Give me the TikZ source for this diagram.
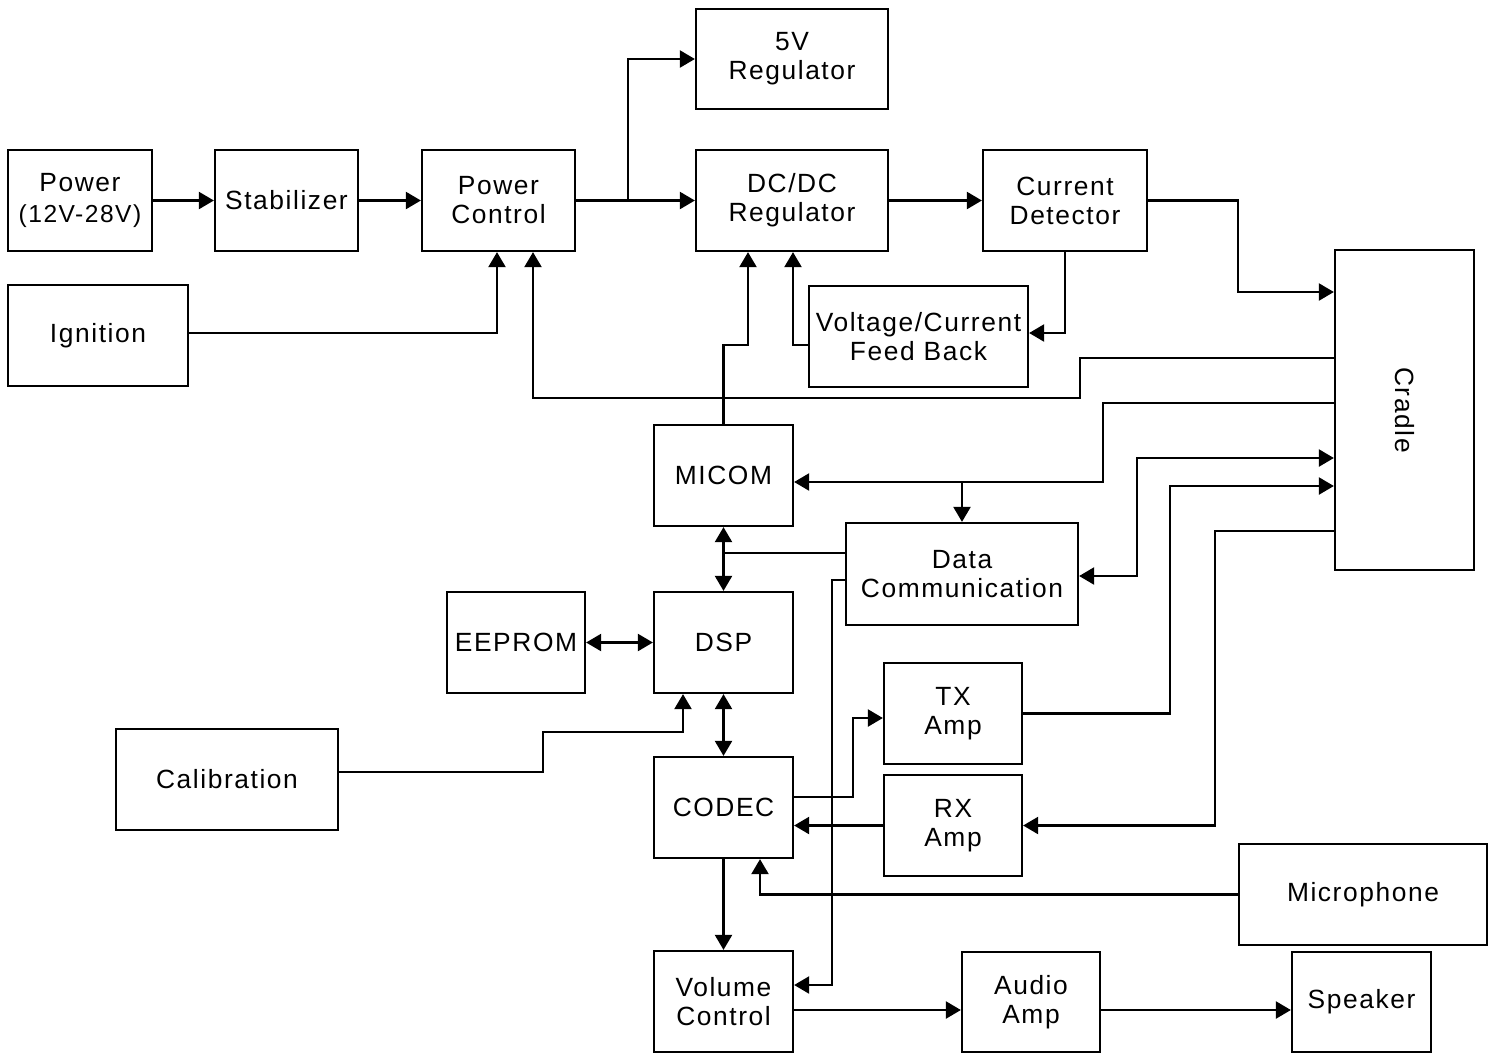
\documentclass[tikz,border=0pt]{standalone}
\usepackage{fontspec}
\setmainfont{Liberation Sans}[LetterSpace=6]
\usepackage{tikz}
\usetikzlibrary{arrows.meta, positioning, calc}

\begin{document}
\begin{tikzpicture}[
    x=0.02cm, y=-0.02cm,
    line width=1.3pt,
    font=\fontsize{15}{16.5}\selectfont,
    block/.style={draw, line width=1.3pt, inner sep=2pt, minimum width=2.78cm, minimum height=2.02cm, align=center},
    arrow/.style={-{Triangle[length=0.3cm, width=0.34cm]}},
    biarrow/.style={{Triangle[length=0.3cm, width=0.34cm]}-{Triangle[length=0.3cm, width=0.34cm]}}
]
    \useasboundingbox (0,0) rectangle (1488,1056);

    % power side
    \node[block, minimum width=2.88cm] (power) at (80,200.5) {Power\\[1pt]{\fontsize{14}{16}\selectfont (12V-28V)}};
    \node[block, minimum width=2.86cm] (stab) at (286.5,200.5) {Stabilizer};
    \node[block, minimum width=3.06cm] (pctrl) at (498.5,200.5) {Power\\Control};
    \node[block, minimum width=3.84cm, minimum height=2.0cm] (reg5) at (792,59) {5V\\Regulator};
    \node[block, minimum width=3.84cm] (dcdc) at (792,200.5) {DC/DC\\Regulator};
    \node[block, minimum width=3.28cm] (curdet) at (1065,200.5) {Current\\Detector};
    \node[block, minimum width=3.6cm] (ign) at (98,335.5) {Ignition};
    \node[block, minimum width=4.38cm] (fdbk) at (918.5,336.5) {Voltage/Current\\Feed Back};
    \node[block, minimum width=2.78cm, minimum height=6.4cm] (cradle) at (1404.5,410) {\rotatebox{-90}{Cradle}};

    % control and audio side
    \node[block] (micom) at (723.5,475.5) {MICOM};
    \node[block, minimum width=4.64cm, minimum height=2.04cm] (datacom) at (962,574) {Data\\Communication};
    \node[block, minimum width=2.76cm] (eeprom) at (516,642.5) {EEPROM};
    \node[block] (dsp) at (723.5,642.5) {DSP};
    \node[block, minimum width=4.44cm] (calib) at (227,779.5) {Calibration};
    \node[block, minimum width=2.76cm] (txamp) at (953,713.5) {TX\\Amp};
    \node[block, minimum width=2.76cm] (rxamp) at (953,825.5) {RX\\Amp};
    \node[block] (codec) at (723.5,807.5) {CODEC};
    \node[block, minimum width=4.96cm] (mic) at (1363,894.5) {Microphone};
    \node[block] (volctl) at (723.5,1001.5) {Volume\\Control};
    \node[block, minimum width=2.76cm, minimum height=2.0cm] (audamp) at (1031,1002) {Audio\\Amp};
    \node[block, minimum height=2.0cm] (spk) at (1361.5,1002) {Speaker};

    % power chain
    \draw[arrow] (power) -- (stab);
    \draw[arrow] (stab) -- (pctrl);
    \draw[arrow] (pctrl) -- (dcdc);
    \draw[arrow] (pctrl.east -| 628,0) |- (reg5.west);
    \draw[arrow] (dcdc) -- (curdet);
    \draw[arrow] (curdet.east) -| (1238,292) -- (cradle.west |- 0,292);
    \draw[arrow] (curdet.south) |- (fdbk.east |- 0,333);
    \draw[arrow] (fdbk.west |- 0,345) -| (dcdc.south -| 793,0);
    \draw[arrow] (micom.north) |- (748,345) -- (dcdc.south -| 748,0);
    \draw[arrow] (ign.east |- 0,333) -| (pctrl.south -| 497,0);
    \draw[arrow] (cradle.west |- 0,358) -| (1080,398) -| (pctrl.south -| 533,0);

    % cradle links
    \coordinate (split) at (962,482);
    \draw[arrow] (cradle.west |- 0,403) -| (1103,482) -- (micom.east |- 0,482);
    \draw[arrow] (split) -- (datacom.north);
    \draw[biarrow] (datacom.east |- 0,576) -| (1137,458) -- (cradle.west |- 0,458);
    \draw[arrow] (txamp.east) -| (1170,486) -- (cradle.west |- 0,486);
    \draw[arrow] (cradle.west |- 0,531) -| (1215,825.5) -- (rxamp.east);

    % processor links
    \draw[biarrow] (micom) -- (dsp);
    \draw (datacom.west |- 0,553) -- (micom.south |- 0,553);
    \draw[arrow] (datacom.west |- 0,580) -| (832,985) -- (volctl.east |- 0,985);
    \draw[biarrow] (eeprom) -- (dsp);
    \draw[arrow] (calib.east |- 0,772) -| (543,732) -| (dsp.south -| 683,0);
    \draw[biarrow] (dsp) -- (codec);
    \draw[arrow] (codec.east |- 0,797) -| (853,718) -- (txamp.west |- 0,718);
    \draw[arrow] (rxamp.west) -- (codec.east |- rxamp.west);
    \draw[arrow] (mic.west) -| (codec.south -| 760,0);
    \draw[arrow] (codec) -- (volctl);
    \draw[arrow] (volctl.east |- 0,1010) -- (audamp.west |- 0,1010);
    \draw[arrow] (audamp.east |- 0,1010) -- (spk.west |- 0,1010);
\end{tikzpicture}
\end{document}
